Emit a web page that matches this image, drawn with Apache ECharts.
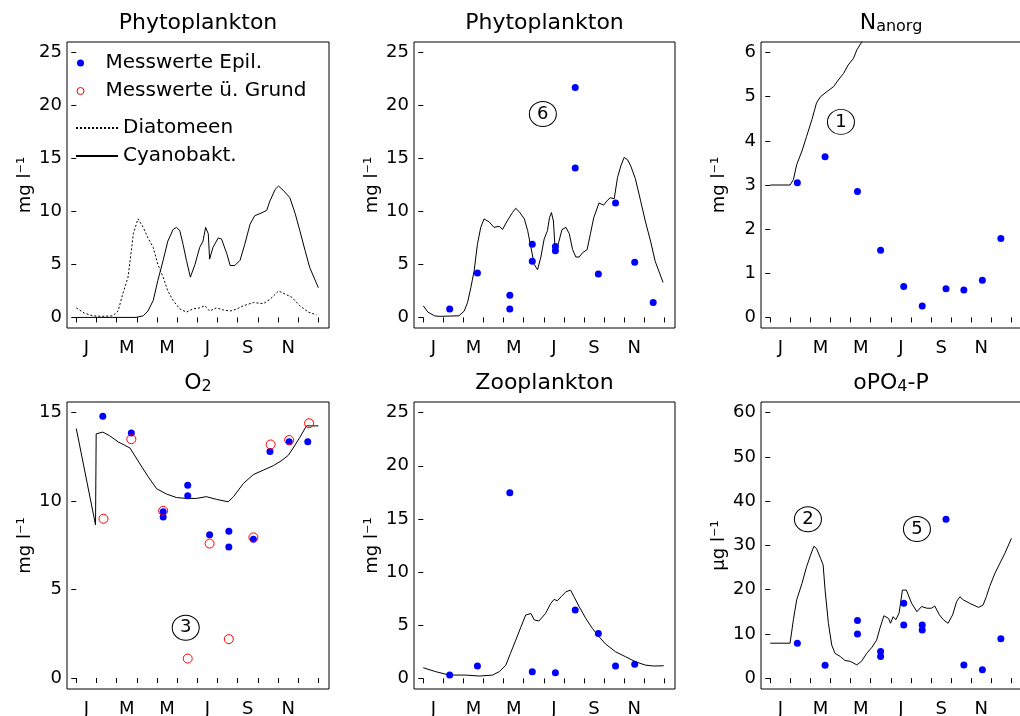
<!DOCTYPE html>
<html>
<head>
<meta charset="utf-8">
<title>Phytoplankton, Nährstoffe, O2</title>
<script src="https://cdn.jsdelivr.net/npm/echarts@6/dist/echarts.min.js"></script>
<style>
  html, body { margin: 0; padding: 0; background: #fff; }
  #chart { width: 1020px; height: 716px; }
</style>
</head>
<body>
<div id="chart"></div>
<script>
// Zeitachse in Tagen ab 1. Januar
const monthTicks = [0, 30.42, 60.83, 91.25, 121.67, 152.08, 182.5, 212.92, 243.33, 273.75, 304.17, 334.58, 365]
const monthLabelPos = [15.21, 76.04, 136.88, 197.71, 258.54, 319.38]
const monthLabels = ['J', 'M', 'M', 'J', 'S', 'N']

// Phytoplankton (Modell), Diatomeen und Cyanobakterien
const diatomeen = [[0, 0.9], [12, 0.4], [25, 0.15], [40, 0.1], [55, 0.15], [63, 0.6], [70, 2.2], [78, 3.8], [83, 6.3], [86, 7.9], [93, 9.3], [101, 8.5], [108, 7.5], [116, 6.6], [123, 5.0], [131, 3.8], [138, 2.5], [146, 1.6], [156, 0.8], [166, 0.5], [176, 0.8], [186, 0.9], [194, 1.1], [201, 0.6], [211, 0.9], [222, 0.7], [232, 0.6], [242, 0.8], [252, 1.1], [267, 1.4], [282, 1.3], [292, 1.7], [305, 2.5], [315, 2.2], [325, 1.9], [337, 1.1], [350, 0.5], [362, 0.25]]
const cyanobakt = [[0, 0], [90, 0], [101, 0.15], [108, 0.6], [116, 1.6], [123, 3.5], [131, 5.4], [138, 7.2], [146, 8.3], [151, 8.5], [156, 8.2], [161, 6.9], [166, 5.4], [172, 3.8], [179, 5.0], [186, 6.6], [191, 7.2], [195, 8.5], [199, 7.9], [201, 5.5], [206, 6.6], [214, 7.5], [219, 7.4], [227, 6.0], [232, 4.9], [239, 4.9], [247, 5.4], [254, 6.9], [262, 8.8], [269, 9.6], [277, 9.8], [287, 10.1], [292, 11.0], [300, 12.1], [305, 12.4], [312, 12.0], [322, 11.3], [330, 9.8], [337, 8.2], [345, 6.3], [352, 4.7], [365, 2.8]]

// Phytoplankton gesamt
const phytoModell = [[0, 1.1], [7, 0.5], [17, 0.15], [24, 0.1], [54, 0.15], [62, 0.6], [67, 1.4], [72, 2.8], [77, 4.4], [82, 6.9], [87, 8.5], [92, 9.3], [100, 9.0], [107, 8.5], [115, 8.6], [120, 8.3], [127, 9.1], [135, 9.9], [140, 10.3], [145, 10.0], [153, 9.3], [158, 8.2], [163, 6.6], [168, 5.0], [173, 4.5], [178, 5.7], [183, 7.4], [188, 8.2], [191, 9.4], [194, 9.9], [197, 9.1], [200, 6.0], [205, 7.1], [210, 8.3], [216, 8.5], [221, 7.9], [226, 6.4], [231, 5.7], [236, 5.7], [241, 6.1], [248, 6.4], [253, 7.9], [258, 9.4], [266, 10.8], [273, 10.6], [278, 11.0], [283, 11.3], [289, 11.2], [294, 13.2], [299, 14.3], [304, 15.1], [309, 14.9], [314, 14.3], [321, 13.1], [329, 11.0], [336, 9.1], [344, 7.2], [351, 5.3], [363, 3.3]]
const phytoEpil = [[40, 0.8], [82, 4.2], [131, 2.1], [131, 0.8], [165, 6.9], [165, 5.3], [200, 6.7], [200, 6.3], [230, 21.7], [230, 14.1], [265, 4.1], [291, 10.8], [320, 5.2], [348, 1.4]]

// N anorg
const nModell = [[0, 3.0], [30, 3.0], [35, 3.12], [40, 3.46], [48, 3.77], [55, 4.1], [63, 4.48], [70, 4.86], [76, 5.0], [86, 5.12], [96, 5.23], [103, 5.38], [111, 5.53], [118, 5.72], [126, 5.87], [131, 6.06], [138, 6.23], [145, 6.45]]
const nEpil = [[41, 3.05], [83, 3.64], [132, 2.85], [167, 1.52], [202, 0.70], [230, 0.26], [266, 0.65], [293, 0.62], [321, 0.84], [349, 1.79]]

// O2
const o2Modell = [[0, 14.1], [29, 8.65], [30, 13.8], [40, 13.9], [50, 13.7], [63, 13.35], [81, 13.0], [96, 12.1], [108, 11.4], [121, 10.7], [136, 10.4], [151, 10.2], [166, 10.15], [181, 10.15], [196, 10.25], [211, 10.1], [229, 9.96], [237, 10.25], [252, 11.0], [267, 11.5], [282, 11.75], [297, 12.0], [310, 12.3], [320, 12.6], [327, 13.0], [337, 13.6], [347, 14.25], [365, 14.25]]
const o2Epil = [[40, 14.8], [83, 13.85], [131, 9.4], [131, 9.1], [168, 10.9], [168, 10.3], [201, 8.1], [230, 8.3], [230, 7.4], [267, 7.85], [292, 12.8], [321, 13.35], [349, 13.35]]
const o2Grund = [[41, 9.0], [83, 13.5], [131, 9.45], [168, 1.1], [201, 7.6], [230, 2.2], [267, 7.95], [293, 13.2], [321, 13.45], [351, 14.4]]

// Zooplankton
const zooModell = [[0, 1.0], [19, 0.63], [39, 0.31], [64, 0.31], [85, 0.22], [105, 0.31], [115, 0.63], [125, 1.25], [132, 2.35], [140, 3.6], [148, 4.86], [155, 5.96], [163, 6.1], [168, 5.5], [175, 5.4], [185, 6.1], [193, 7.05], [198, 7.43], [203, 7.3], [209, 7.7], [216, 8.15], [223, 8.3], [228, 7.7], [236, 6.74], [246, 5.64], [256, 4.7], [266, 3.92], [276, 3.23], [291, 2.5], [306, 2.04], [321, 1.57], [336, 1.25], [349, 1.16], [364, 1.19]]
const zooEpil = [[40, 0.31], [82, 1.16], [131, 17.46], [165, 0.63], [200, 0.53], [230, 6.43], [265, 4.23], [291, 1.16], [320, 1.32]]

// oPO4-P
const po4Modell = [[0, 7.9], [30, 7.9], [35, 13.2], [40, 17.7], [48, 21.4], [55, 25.2], [61, 27.8], [66, 29.8], [70, 29.3], [76, 27.1], [80, 25.6], [83, 19.9], [88, 12.4], [93, 7.5], [98, 5.6], [106, 4.9], [113, 4.0], [121, 3.8], [131, 3.0], [138, 3.8], [146, 5.6], [154, 7.0], [161, 8.6], [166, 11.3], [172, 14.1], [179, 13.5], [182, 12.4], [186, 13.9], [190, 13.2], [195, 14.7], [200, 19.9], [206, 19.9], [214, 16.9], [222, 15.0], [229, 16.2], [237, 15.8], [244, 15.8], [249, 16.3], [256, 14.3], [262, 13.2], [269, 12.4], [276, 14.3], [282, 17.3], [287, 18.4], [292, 17.7], [302, 16.9], [315, 16.0], [322, 16.5], [327, 18.4], [332, 20.7], [340, 23.7], [347, 25.8], [355, 28.2], [365, 31.6]]
const po4Epil = [[41, 7.9], [83, 2.9], [132, 13.0], [132, 10.0], [167, 6.0], [167, 4.9], [202, 16.9], [202, 12.0], [230, 12.0], [230, 10.9], [266, 35.9], [293, 3.0], [321, 1.9], [349, 8.9]]

// eingekreiste Nummern [Tag, Wert, Nummer]
const markPhyto = [[181, 19.2, '6']]
const markN = [[107, 4.43, '1']]
const markO2 = [[165, 2.84, '3']]
const markPo4 = [[57, 35.9, '2'], [222, 33.7, '5']]

const FONT = 'DejaVu Sans'

const panels = [
  { title: 'Phytoplankton', unit: 'mg l⁻¹', yMin: -1, yMax: 26, yTicks: [0, 5, 10, 15, 20, 25],
    lines: [{ name: 'Diatomeen', data: diatomeen, dotted: true }, { name: 'Cyanobakt.', data: cyanobakt }] },
  { title: 'Phytoplankton', unit: 'mg l⁻¹', yMin: -1, yMax: 26, yTicks: [0, 5, 10, 15, 20, 25],
    lines: [{ name: 'Phytoplankton Modell', data: phytoModell, marks: markPhyto }], epil: phytoEpil },
  { title: '{m|N}{s|anorg}', unit: 'mg l⁻¹', yMin: -0.24, yMax: 6.24, yTicks: [0, 1, 2, 3, 4, 5, 6],
    lines: [{ name: 'N anorg Modell', data: nModell, marks: markN }], epil: nEpil },
  { title: '{m|O}{s|2}', unit: 'mg l⁻¹', yMin: -0.62, yMax: 15.6, yTicks: [0, 5, 10, 15],
    lines: [{ name: 'O2 Modell', data: o2Modell, marks: markO2 }], epil: o2Epil, grund: o2Grund },
  { title: 'Zooplankton', unit: 'mg l⁻¹', yMin: -1, yMax: 26, yTicks: [0, 5, 10, 15, 20, 25],
    lines: [{ name: 'Zooplankton Modell', data: zooModell }], epil: zooEpil },
  { title: '{m|oPO}{s|4}{m|-P}', unit: 'µg l⁻¹', yMin: -2.45, yMax: 62.4, yTicks: [0, 10, 20, 30, 40, 50, 60],
    lines: [{ name: 'oPO4-P Modell', data: po4Modell, marks: markPo4 }], epil: po4Epil }
]

// Rahmen der sechs Felder (rechte Spalte reicht über den Bildrand hinaus)
const colLeft = [67, 414, 761]
const colWidth = [262, 261, 270]
const colXMax = [381, 381, 394.6]
const titleX = [198, 544.5, 891]
const rowTop = [42, 402]
const rowHeight = [286, 287]
const titleTop = [12, 372]

const chart = echarts.init(document.getElementById('chart'))

const grid = []
const xAxis = []
const yAxis = []
const title = []
const series = []

panels.forEach((p, i) => {
  const c = i % 3
  const r = Math.floor(i / 3)
  grid.push({
    left: colLeft[c], top: rowTop[r], width: colWidth[c], height: rowHeight[r],
    show: true, borderColor: '#000', borderWidth: 1, backgroundColor: 'transparent',
    outerBoundsMode: 'none'
  })
  title.push({
    text: p.title,
    left: titleX[c],
    top: titleTop[r],
    textAlign: 'center',
    padding: 0,
    textStyle: {
      fontFamily: FONT, fontSize: 22, fontWeight: 'normal', color: '#000',
      rich: {
        m: { fontFamily: FONT, fontSize: 22, color: '#000', lineHeight: 16, verticalAlign: 'top' },
        s: { fontFamily: FONT, fontSize: 16, color: '#000', lineHeight: 30 }
      }
    }
  })
  xAxis.push({
    type: 'value', gridIndex: i, min: -14, max: colXMax[c],
    axisLine: { show: false },
    splitLine: { show: false },
    axisTick: { show: true, length: 5, customValues: monthTicks, lineStyle: { color: '#000', width: 1 } },
    axisLabel: {
      customValues: monthLabelPos,
      margin: 11, fontSize: 18, fontFamily: FONT, color: '#000',
      formatter: function (v) {
        const k = monthLabelPos.indexOf(v)
        return k >= 0 ? monthLabels[k] : ''
      }
    }
  })
  yAxis.push({
    type: 'value', gridIndex: i, min: p.yMin, max: p.yMax,
    name: p.unit, nameLocation: 'middle', nameGap: 33,
    nameTextStyle: { fontFamily: FONT, fontSize: 18, color: '#000' },
    axisLine: { show: false },
    splitLine: { show: false },
    axisTick: { show: true, length: 5, customValues: p.yTicks, lineStyle: { color: '#000', width: 1 } },
    axisLabel: { customValues: p.yTicks, margin: 5, fontSize: 18, fontFamily: FONT, color: '#000' }
  })
  p.lines.forEach(l => {
    const s = {
      type: 'line', name: l.name, xAxisIndex: i, yAxisIndex: i,
      data: l.data, symbol: 'none', showSymbol: false, clip: true, silent: true,
      lineStyle: { color: '#000', width: 1, type: l.dotted ? [2, 2] : 'solid' },
      itemStyle: { color: '#000' },
      z: 2
    }
    if (l.marks) {
      s.markPoint = {
        symbol: 'circle', symbolSize: [27, 25], silent: true,
        itemStyle: { color: 'rgba(0,0,0,0)', borderColor: '#000', borderWidth: 1 },
        label: { show: true, position: 'inside', formatter: '{b}', color: '#000', fontSize: 18, fontFamily: FONT },
        data: l.marks.map(m => ({ name: m[2], coord: [m[0], m[1]] }))
      }
    }
    series.push(s)
  })
  if (p.epil) {
    series.push({
      type: 'scatter', name: 'Messwerte Epil.', xAxisIndex: i, yAxisIndex: i,
      data: p.epil, symbol: 'circle', symbolSize: 7,
      itemStyle: { color: '#0000ff', opacity: 1 }, z: 3
    })
  }
  if (p.grund) {
    series.push({
      type: 'scatter', name: 'Messwerte ü. Grund', xAxisIndex: i, yAxisIndex: i,
      data: p.grund, symbol: 'circle', symbolSize: 9,
      itemStyle: { color: 'rgba(0,0,0,0)', borderColor: '#ff0000', borderWidth: 1, opacity: 1 }, z: 4
    })
  }
})

const option = {
  animation: false,
  backgroundColor: '#fff',
  title: title,
  grid: grid,
  xAxis: xAxis,
  yAxis: yAxis,
  legend: [
    {
      orient: 'vertical', left: 76.5, top: 53, padding: 0,
      itemWidth: 40, itemHeight: 7, itemGap: 8,
      selectedMode: false,
      textStyle: { fontFamily: FONT, fontSize: 20, color: '#000', lineHeight: 20 },
      data: [
        { name: 'Messwerte Epil.', icon: 'circle', itemStyle: { color: '#0000ff', opacity: 1 } },
        { name: 'Messwerte ü. Grund', icon: 'circle', itemStyle: { color: 'rgba(0,0,0,0)', borderColor: '#ff0000', borderWidth: 1, opacity: 1 } }
      ]
    },
    {
      orient: 'vertical', left: 75, top: 118, padding: 0,
      itemWidth: 42, itemHeight: 10, itemGap: 8,
      selectedMode: false,
      itemStyle: { opacity: 0 },
      textStyle: { fontFamily: FONT, fontSize: 20, color: '#000', lineHeight: 20 },
      data: ['Diatomeen', 'Cyanobakt.']
    }
  ],
  series: series
}

chart.setOption(option)
</script>
</body>
</html>
